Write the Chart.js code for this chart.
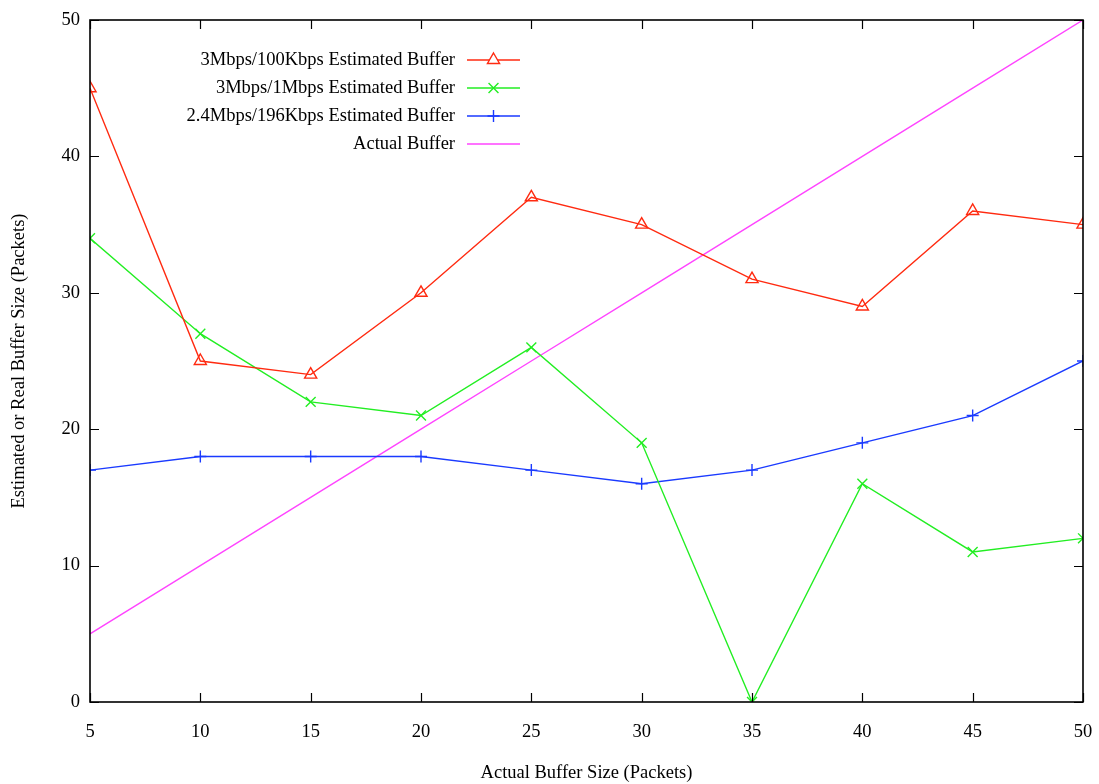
<!DOCTYPE html>
<html>
<head>
<meta charset="utf-8">
<script src="https://cdn.jsdelivr.net/npm/chart.js@4.4.0/dist/chart.umd.min.js"></script>
<style>
  html, body { margin: 0; padding: 0; background: #fff; }
  #wrap { width: 1099px; height: 784px; }
</style>
</head>
<body>
<div id="wrap"><canvas id="myChart"></canvas></div>
<script>
// data
const bufferSizes = [5, 10, 15, 20, 25, 30, 35, 40, 45, 50];
const est100Kbps = [45, 25, 24, 30, 37, 35, 31, 29, 36, 35];
const est1Mbps = [34, 27, 22, 21, 26, 19, 0, 16, 11, 12];
const est196Kbps = [17, 18, 18, 18, 17, 16, 17, 19, 21, 25];
const actualBuffer = [5, 10, 15, 20, 25, 30, 35, 40, 45, 50];

const seriesLabels = [
    "3Mbps/100Kbps Estimated Buffer",
    "3Mbps/1Mbps Estimated Buffer",
    "2.4Mbps/196Kbps Estimated Buffer",
    "Actual Buffer"
];
const xTicks = [5, 10, 15, 20, 25, 30, 35, 40, 45, 50];
const yTicks = [0, 10, 20, 30, 40, 50];

const FONT = "'Liberation Serif', 'DejaVu Serif', serif";
const FSIZE = 18.5;

const toPoints = (vals) => vals.map((v, i) => ({ x: bufferSizes[i], y: v }));

// gnuplot style: inward ticks on all four sides, mirrored
const tickPlugin = {
    id: "gnuTicks",
    afterDatasetsDraw(chart) {
        const ctx = chart.ctx;
        const a = chart.chartArea;
        const xs = chart.scales.x;
        const ys = chart.scales.y;
        const len = 9;
        ctx.save();
        ctx.strokeStyle = "#000";
        ctx.lineWidth = 1.2;
        ctx.beginPath();
        xTicks.forEach(t => {
            const px = Math.round(xs.getPixelForValue(t)) + 0.5;
            ctx.moveTo(px, a.bottom);
            ctx.lineTo(px, a.bottom - len);
            ctx.moveTo(px, a.top);
            ctx.lineTo(px, a.top + len);
        });
        yTicks.forEach(t => {
            const py = Math.round(ys.getPixelForValue(t)) + 0.5;
            ctx.moveTo(a.left, py);
            ctx.lineTo(a.left + len, py);
            ctx.moveTo(a.right, py);
            ctx.lineTo(a.right - len, py);
        });
        ctx.stroke();
        ctx.lineWidth = 1.6;
        ctx.strokeRect(a.left, a.top, a.right - a.left, a.bottom - a.top);
        ctx.restore();
    }
};

// legend: right aligned text, sample line to its right
const legendPlugin = {
    id: "gnuLegend",
    afterDatasetsDraw(chart) {
        const ctx = chart.ctx;
        const textRight = 455;
        const lineX0 = 467, lineX1 = 520;
        const y0 = 60, step = 28;
        ctx.save();
        ctx.font = FSIZE + "px " + FONT;
        ctx.textAlign = "right";
        ctx.textBaseline = "middle";
        chart.data.datasets.forEach((ds, i) => {
            const y = y0 + i * step;
            ctx.fillStyle = "#000";
            ctx.fillText(ds.label, textRight, y);
            ctx.strokeStyle = ds.borderColor;
            ctx.lineWidth = 1.4;
            ctx.beginPath();
            ctx.moveTo(lineX0, y);
            ctx.lineTo(lineX1, y);
            ctx.stroke();
            if (ds.pointRadius > 0) {
                ctx.fillStyle = "#fff";
                Chart.helpers.drawPoint(ctx, {
                    pointStyle: ds.pointStyle,
                    radius: ds.pointRadius,
                    borderWidth: 1.4
                }, (lineX0 + lineX1) / 2, y);
            }
        });
        ctx.restore();
    }
};

const ctx = document.getElementById("myChart").getContext("2d");
const myChart = new Chart(ctx, {
    type: "line",
    data: {
        datasets: [
            {
                label: seriesLabels[0],
                data: toPoints(est100Kbps),
                borderColor: "#ff2a10",
                backgroundColor: "rgba(255,255,255,0)",
                pointBackgroundColor: "rgba(255,255,255,0)",
                pointStyle: "triangle",
                pointRadius: 7,
                borderWidth: 1.4
            },
            {
                label: seriesLabels[1],
                data: toPoints(est1Mbps),
                borderColor: "#22ee22",
                backgroundColor: "rgba(0,0,0,0)",
                pointStyle: "crossRot",
                pointRadius: 7,
                borderWidth: 1.4
            },
            {
                label: seriesLabels[2],
                data: toPoints(est196Kbps),
                borderColor: "#1a3aff",
                backgroundColor: "rgba(0,0,0,0)",
                pointStyle: "cross",
                pointRadius: 6,
                borderWidth: 1.4
            },
            {
                label: seriesLabels[3],
                data: toPoints(actualBuffer),
                borderColor: "#ff44ff",
                backgroundColor: "rgba(0,0,0,0)",
                pointRadius: 0,
                borderWidth: 1.4
            }
        ]
    },
    options: {
        responsive: true,
        maintainAspectRatio: false,
        animation: false,
        layout: { padding: { top: 20, right: 16, left: 0, bottom: 0 } },
        elements: {
            line: { tension: 0 },
            point: { borderWidth: 1.4 }
        },
        plugins: {
            legend: { display: false },
            tooltip: { enabled: false }
        },
        scales: {
            x: {
                type: "linear",
                min: 5,
                max: 50,
                afterBuildTicks: (s) => { s.ticks = xTicks.map(v => ({ value: v })); },
                afterFit: (s) => {
                    s.height = 82;
                    s.paddingLeft = 0;
                    s.paddingRight = 0;
                },
                grid: { display: false, drawTicks: false },
                border: { display: false },
                ticks: {
                    color: "#000",
                    font: { family: FONT, size: FSIZE },
                    padding: 19,
                    maxRotation: 0
                },
                title: {
                    display: true,
                    text: "Actual Buffer Size (Packets)",
                    color: "#000",
                    font: { family: FONT, size: FSIZE },
                    padding: { top: 14, bottom: 0 }
                }
            },
            y: {
                min: 0,
                max: 50,
                afterBuildTicks: (s) => { s.ticks = yTicks.map(v => ({ value: v })); },
                afterFit: (s) => {
                    s.width = 90;
                    s.paddingTop = 0;
                    s.paddingBottom = 0;
                },
                grid: { display: false, drawTicks: false },
                border: { display: false },
                ticks: {
                    color: "#000",
                    font: { family: FONT, size: FSIZE },
                    padding: 10
                },
                title: {
                    display: true,
                    text: "Estimated or Real Buffer Size (Packets)",
                    color: "#000",
                    font: { family: FONT, size: FSIZE },
                    padding: { top: 8, bottom: 0 }
                }
            }
        }
    },
    plugins: [tickPlugin, legendPlugin]
});
</script>
</body>
</html>
